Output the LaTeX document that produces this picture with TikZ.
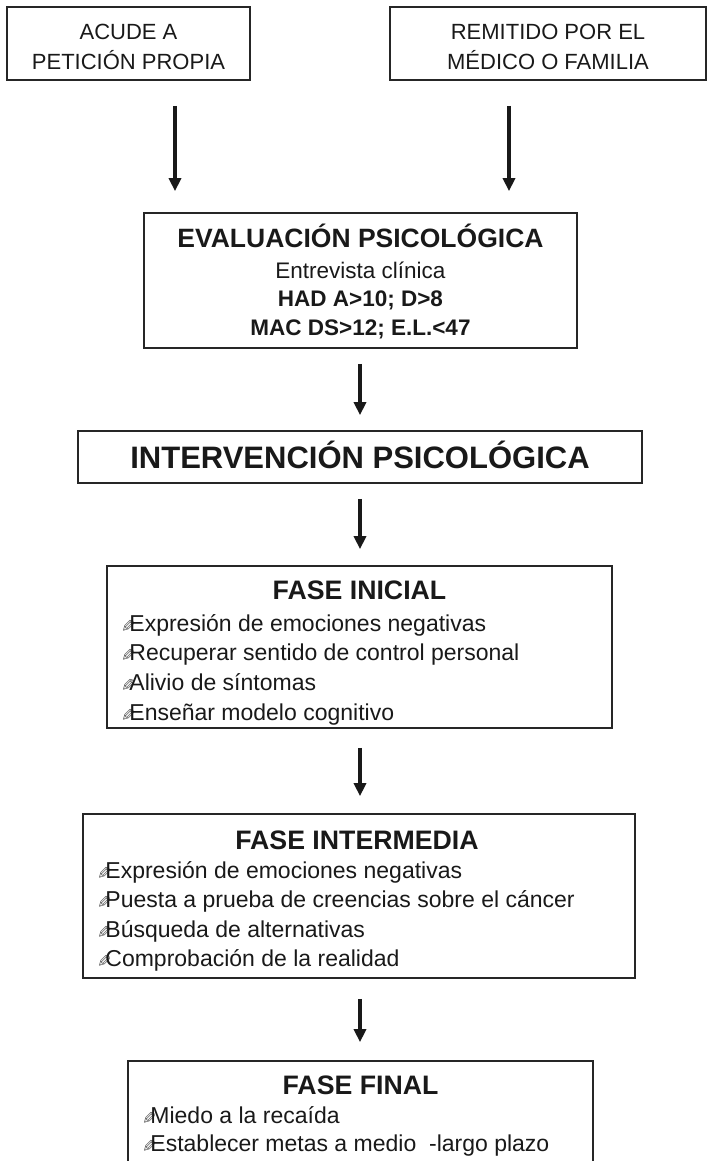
\documentclass[tikz,border=0pt]{standalone}
\usepackage{fontspec}
\setmainfont{Liberation Sans}
\newfontfamily\dejavu{DejaVu Sans}
\usetikzlibrary{arrows.meta}
\newcommand{\fsz}[1]{\fontsize{#1}{#1}\selectfont}
\newcommand{\penmark}{{\dejavu\fsz{17}\color{black!65}\raisebox{-1pt}{\reflectbox{✎}}}\kern-6pt}
\begin{document}
\begin{tikzpicture}[x=1pt,y=-1pt,
  box/.style={draw=black!85, line width=1.7pt, inner sep=0pt},
  txt/.style={inner sep=0pt, anchor=base, text=black!90},
  itemtxt/.style={inner sep=0pt, anchor=base west, font=\fsz{23}, text=black!90},
  arr/.style={line width=3.6pt, black!90, -{Triangle[width=12pt,length=13pt]}}]
\useasboundingbox (0,0) rectangle (710,1161);
\clip (0,0) rectangle (710,1161);
% coordinates for arrow columns
\coordinate (cl) at (175,0);
\coordinate (cr) at (509,0);
\coordinate (cm) at (360,0);
% top boxes
\node[box, minimum width=243pt, minimum height=73pt] (b1) at (128.5,43.5) {};
\node[txt, font=\fsz{22}] (b1a) at (128.5,40) {ACUDE A};
\node[txt, font=\fsz{22}] (b1b) at (128.5,70) {PETICIÓN PROPIA};
\node[box, minimum width=316pt, minimum height=73pt] (b2) at (548,43.5) {};
\node[txt, font=\fsz{22}] (b2a) at (548,40) {REMITIDO POR EL};
\node[txt, font=\fsz{22}] (b2b) at (548,70) {MÉDICO O FAMILIA};
% evaluation
\node[box, minimum width=433pt, minimum height=135pt] (ev) at (360.5,280.5) {};
\node[txt, font=\bfseries\fsz{26.5}] (ev1) at (360.5,247.5) {EVALUACIÓN PSICOLÓGICA};
\node[txt, font=\fsz{22.5}] (ev2) at (360.5,278) {Entrevista clínica};
\node[txt, font=\bfseries\fsz{22.5}] (ev3) at (360.5,306) {HAD A>10; D>8};
\node[txt, font=\bfseries\fsz{22.5}] (ev4) at (360.5,335) {MAC DS>12; E.L.<47};
% intervention
\node[box, minimum width=564pt, minimum height=52pt] (iv) at (360,457) {};
\node[txt, font=\bfseries\fsz{31}] (ivt) at (360,468) {INTERVENCIÓN PSICOLÓGICA};
% fase inicial
\node[box, minimum width=505pt, minimum height=162pt] (fi) at (359.5,647) {};
\node[txt, font=\bfseries\fsz{26.7}] (fit) at (359.5,599.5) {FASE INICIAL};
\node[itemtxt] (fi1) at (121,631) {\penmark Expresión de emociones negativas};
\node[itemtxt] (fi2) at (121,660) {\penmark Recuperar sentido de control personal};
\node[itemtxt] (fi3) at (121,690) {\penmark Alivio de síntomas};
\node[itemtxt] (fi4) at (121,720) {\penmark Enseñar modelo cognitivo};
% fase intermedia
\node[box, minimum width=552pt, minimum height=164pt] (fm) at (359,896) {};
\node[txt, font=\bfseries\fsz{26.7}] (fmt) at (357,849.5) {FASE INTERMEDIA};
\node[itemtxt] (fm1) at (97,878) {\penmark Expresión de emociones negativas};
\node[itemtxt] (fm2) at (97,907) {\penmark Puesta a prueba de creencias sobre el cáncer};
\node[itemtxt] (fm3) at (97,937) {\penmark Búsqueda de alternativas};
\node[itemtxt] (fm4) at (97,966) {\penmark Comprobación de la realidad};
% fase final
\node[box, minimum width=465pt, minimum height=140pt] (ff) at (360.5,1131) {};
\node[txt, font=\bfseries\fsz{26.7}] (fft) at (360.5,1094.5) {FASE FINAL};
\node[itemtxt] (ff1) at (142,1123) {\penmark Miedo a la recaída};
\node[itemtxt] (ff2) at (142,1151) {\penmark Establecer metas a medio\ \ -largo plazo};
% arrows
\draw[arr, shorten <=25pt, shorten >=21pt] (b1.south -| cl) -- (ev.north -| cl);
\draw[arr, shorten <=25pt, shorten >=21pt] (b2.south -| cr) -- (ev.north -| cr);
\draw[arr, shorten <=15pt, shorten >=15pt] (ev.south -| cm) -- (iv.north -| cm);
\draw[arr, shorten <=15pt, shorten >=16pt] (iv.south -| cm) -- (fi.north -| cm);
\draw[arr, shorten <=19pt, shorten >=17pt] (fi.south -| cm) -- (fm.north -| cm);
\draw[arr, shorten <=20pt, shorten >=18pt] (fm.south -| cm) -- (ff.north -| cm);
\end{tikzpicture}
\end{document}
